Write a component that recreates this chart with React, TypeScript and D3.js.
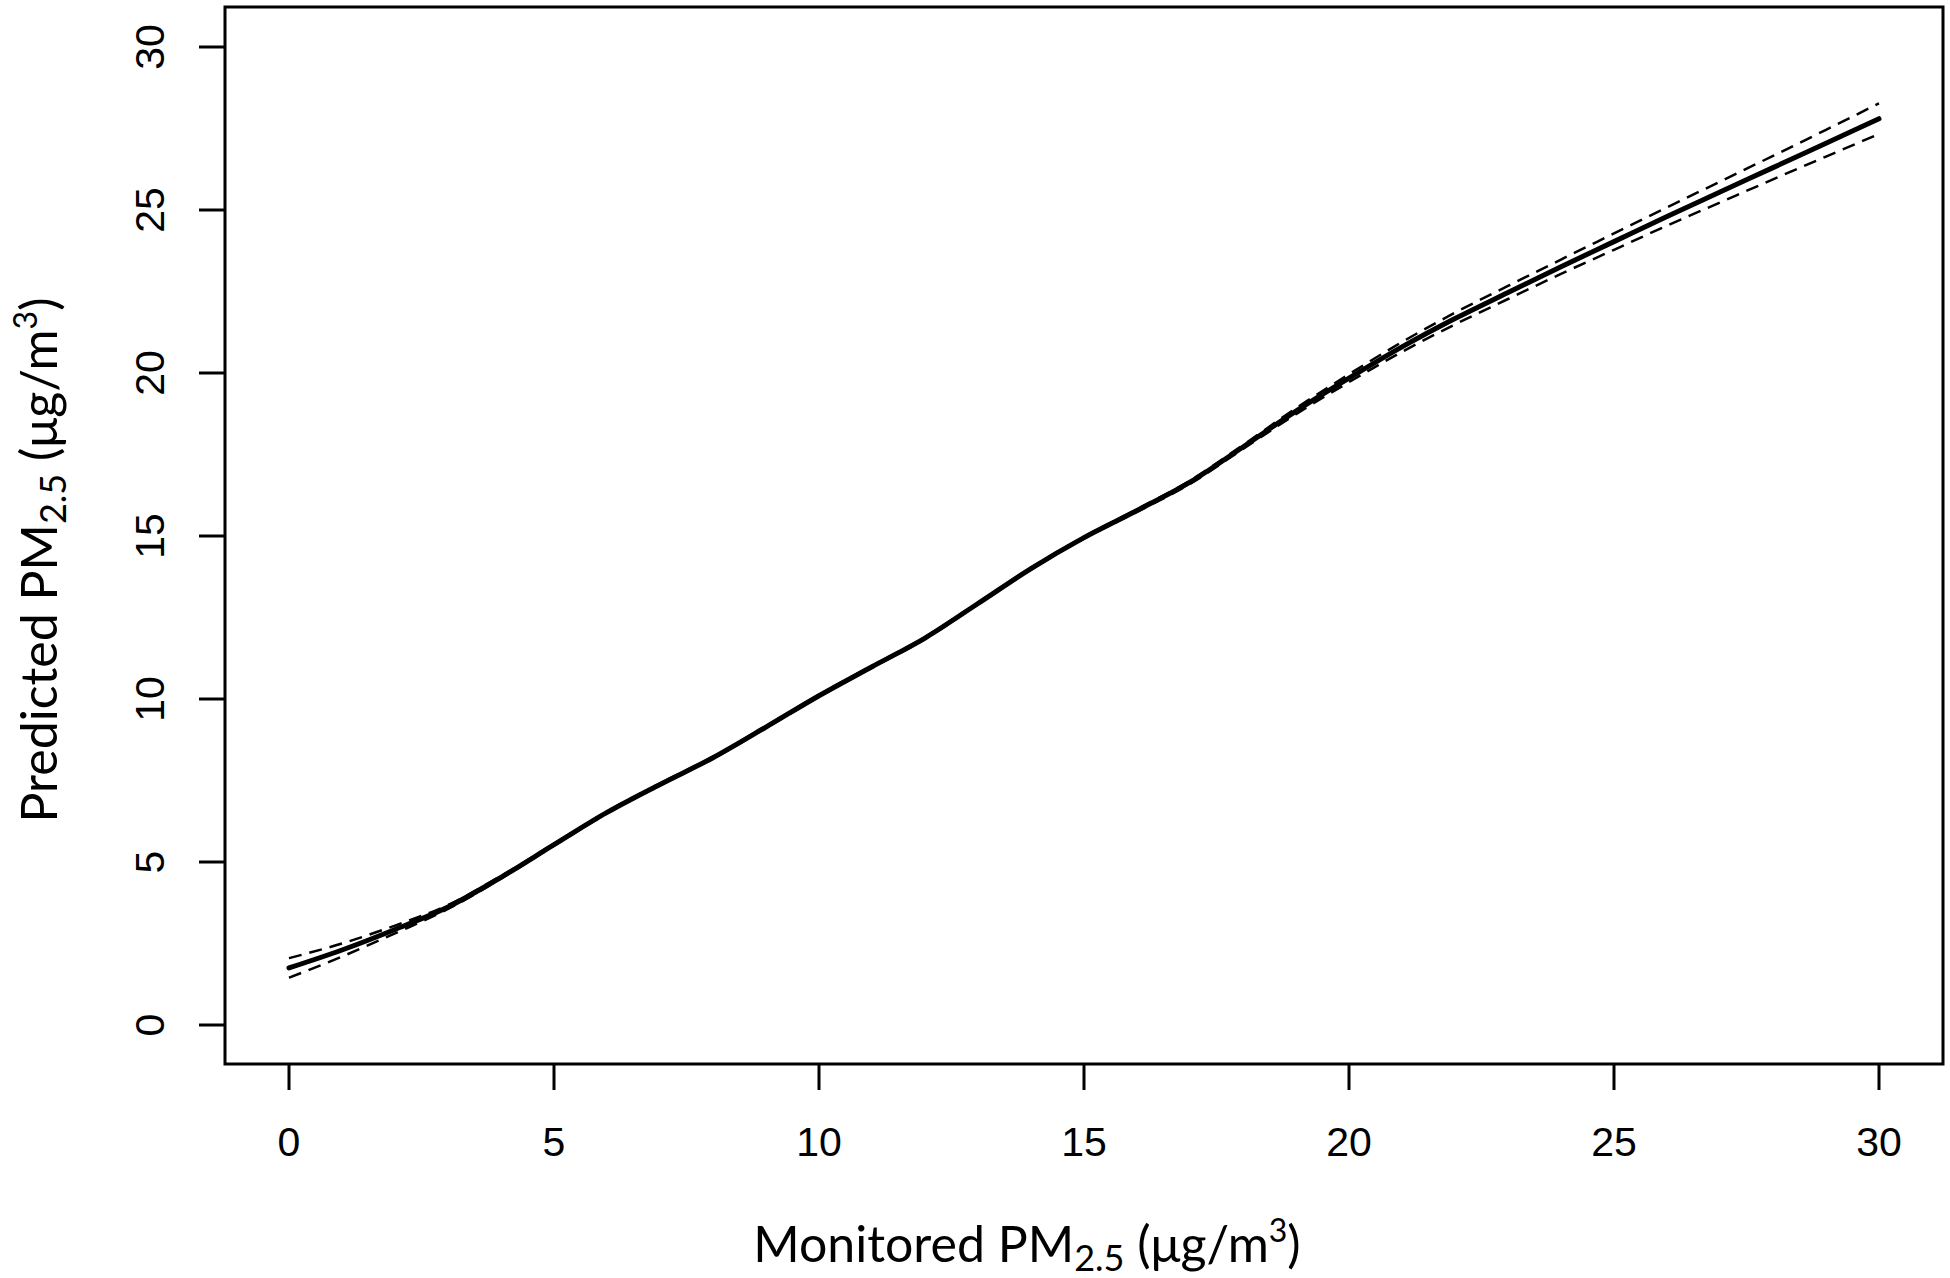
import React from "react";
import * as d3 from "d3";

const X_VALUES = [0, 1, 2, 3, 4, 5, 6, 7, 8, 9, 10, 11, 12, 13, 14, 15, 16, 17, 18, 19, 20, 21, 22, 23, 24, 25, 26, 27, 28, 29, 30];
const PREDICTED = [1.75, 2.3, 2.93, 3.62, 4.53, 5.53, 6.52, 7.38, 8.2, 9.14, 10.1, 10.99, 11.87, 12.93, 14.0, 14.95, 15.78, 16.65, 17.73, 18.83, 19.84, 20.8, 21.67, 22.47, 23.26, 24.03, 24.8, 25.55, 26.3, 27.05, 27.8];
const UPPER = [2.05, 2.5, 3.05, 3.68, 4.57, 5.56, 6.55, 7.41, 8.23, 9.17, 10.13, 11.02, 11.9, 12.96, 14.03, 14.98, 15.82, 16.7, 17.79, 18.92, 19.96, 20.95, 21.85, 22.67, 23.48, 24.28, 25.08, 25.87, 26.66, 27.46, 28.27];
const LOWER = [1.45, 2.1, 2.81, 3.56, 4.49, 5.5, 6.49, 7.35, 8.17, 9.11, 10.07, 10.96, 11.84, 12.9, 13.97, 14.92, 15.74, 16.6, 17.67, 18.74, 19.72, 20.65, 21.49, 22.27, 23.04, 23.78, 24.52, 25.23, 25.94, 26.64, 27.33];
const X_TICKS = [0, 5, 10, 15, 20, 25, 30];
const Y_TICKS = [0, 5, 10, 15, 20, 25, 30];

const W = 1950;
const H = 1278;
const BOX = { left: 225, right: 1943, top: 7, bottom: 1064 };

export default function App() {
  const x = d3.scaleLinear().domain([0, 30]).range([289, 1879]);
  const y = d3.scaleLinear().domain([0, 30]).range([1025, 47]);
  const line = (vals: number[]) =>
    d3
      .line<number>()
      .x((_, i) => x(X_VALUES[i]))
      .y((d) => y(d))
      .curve(d3.curveMonotoneX)(vals) || "";

  const tickFont = "'Liberation Sans', Arial, sans-serif";
  const titleFont = "Lato, 'Open Sans', sans-serif";

  return (
    <svg
      width={W}
      height={H}
      viewBox={`0 0 ${W} ${H}`}
      style={{ position: "absolute", left: 0, top: 0, background: "#fff" }}
    >
      <rect x={0} y={0} width={W} height={H} fill="#fff" />
      {/* plot box */}
      <rect
        x={BOX.left}
        y={BOX.top}
        width={BOX.right - BOX.left}
        height={BOX.bottom - BOX.top}
        fill="none"
        stroke="#000"
        strokeWidth={3}
      />
      {/* x axis ticks */}
      {X_TICKS.map((t) => (
        <g key={`xt${t}`}>
          <line x1={x(t)} x2={x(t)} y1={BOX.bottom} y2={BOX.bottom + 26} stroke="#000" strokeWidth={3} />
          <text x={x(t)} y={1156} textAnchor="middle" fontFamily={tickFont} fontSize={41} fill="#000">
            {t}
          </text>
        </g>
      ))}
      {/* y axis ticks */}
      {Y_TICKS.map((t) => (
        <g key={`yt${t}`}>
          <line x1={BOX.left} x2={BOX.left - 26} y1={y(t)} y2={y(t)} stroke="#000" strokeWidth={3} />
          <text
            transform={`translate(164,${y(t)}) rotate(-90)`}
            textAnchor="middle"
            fontFamily={tickFont}
            fontSize={41}
            fill="#000"
          >
            {t}
          </text>
        </g>
      ))}
      {/* confidence bands */}
      <path d={line(UPPER)} fill="none" stroke="#000" strokeWidth={2.5} strokeDasharray="13 8" />
      <path d={line(LOWER)} fill="none" stroke="#000" strokeWidth={2.5} strokeDasharray="13 8" />
      {/* fitted line */}
      <path d={line(PREDICTED)} fill="none" stroke="#000" strokeWidth={5} strokeLinecap="round" />
      {/* x title */}
      <text x={1027} y={1262} textAnchor="middle" fontFamily={titleFont} fontSize={50} fill="#000">
        Monitored PM
        <tspan fontSize={36} dy={9}>2.5</tspan>
        <tspan dy={-9}> (μg/m</tspan>
        <tspan fontSize={32} dy={-20}>3</tspan>
        <tspan dy={20}>)</tspan>
      </text>
      {/* y title */}
      <text
        transform={`translate(57,560) rotate(-90)`}
        textAnchor="middle"
        fontFamily={titleFont}
        fontSize={50}
        fill="#000"
      >
        Predicted PM
        <tspan fontSize={36} dy={9}>2.5</tspan>
        <tspan dy={-9}> (μg/m</tspan>
        <tspan fontSize={32} dy={-20}>3</tspan>
        <tspan dy={20}>)</tspan>
      </text>
    </svg>
  );
}
